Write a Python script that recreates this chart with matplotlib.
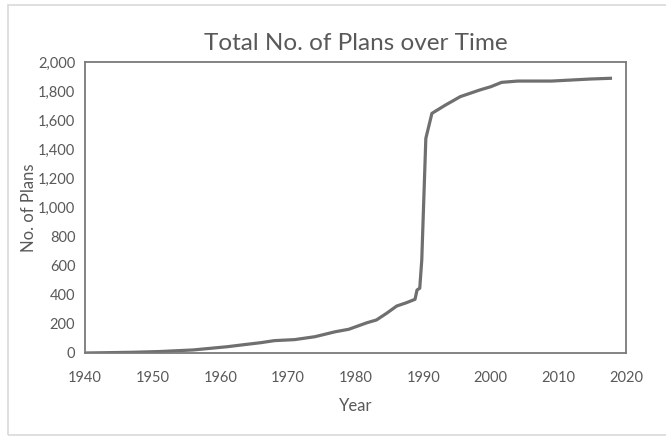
import matplotlib.pyplot as plt
from matplotlib.patches import Rectangle
from matplotlib.ticker import FuncFormatter

# cumulative count of plans by year
years = [1940, 1943, 1947, 1951, 1956, 1961, 1964, 1966, 1968, 1971, 1974,
         1977, 1979, 1981.7, 1983.1, 1984.6, 1986.1, 1987.5, 1988.8, 1989.1,
         1989.5, 1989.8, 1990.4, 1991.3, 1993.3, 1995.5, 1998.4, 2000,
         2001.6, 2004, 2009, 2014.7, 2017.7]
plans = [0, 2, 5, 10, 21, 43, 60, 71, 85, 92, 112,
         146, 163, 208, 227, 273, 323, 345, 369, 433,
         445, 639, 1475, 1647, 1704, 1762, 1808, 1830,
         1860, 1869, 1869, 1883, 1888]

txt = "#595959"
plt.rcParams["font.family"] = ["Lato", "DejaVu Sans"]

fig = plt.figure(figsize=(6.66, 4.38), dpi=100)
fig.patches.append(Rectangle((8 / 666, 3 / 438), 1.2, 430 / 438,
                             transform=fig.transFigure, fill=False,
                             edgecolor="#d9d9d9", lw=1.2))
ax = fig.add_axes([85 / 666, 85 / 438, 541 / 666, 291 / 438])

ax.plot(years, plans, color="#6f6f6f", lw=2.3, solid_joinstyle="round")

ax.set_xlim(1940, 2020)
ax.set_ylim(0, 2000)
ax.set_xticks(range(1940, 2021, 10))
ax.set_yticks(range(0, 2001, 200))
ax.yaxis.set_major_formatter(FuncFormatter(lambda v, p: f"{int(v):,}"))
ax.tick_params(length=0, labelsize=10.5, colors=txt)
ax.tick_params(axis="x", pad=13)
ax.tick_params(axis="y", pad=7)

for s in ax.spines.values():
    s.set_color("#7a7a7a")
    s.set_linewidth(1.3)

ax.set_title("Total No. of Plans over Time", fontsize=17.5, color=txt, pad=9)
ax.set_xlabel("Year", fontsize=12, color=txt, labelpad=9)
ax.set_ylabel("No. of Plans", fontsize=12, color=txt)
ax.yaxis.set_label_coords(-0.088, 0.5)

fig.savefig("out.png", dpi=100)
